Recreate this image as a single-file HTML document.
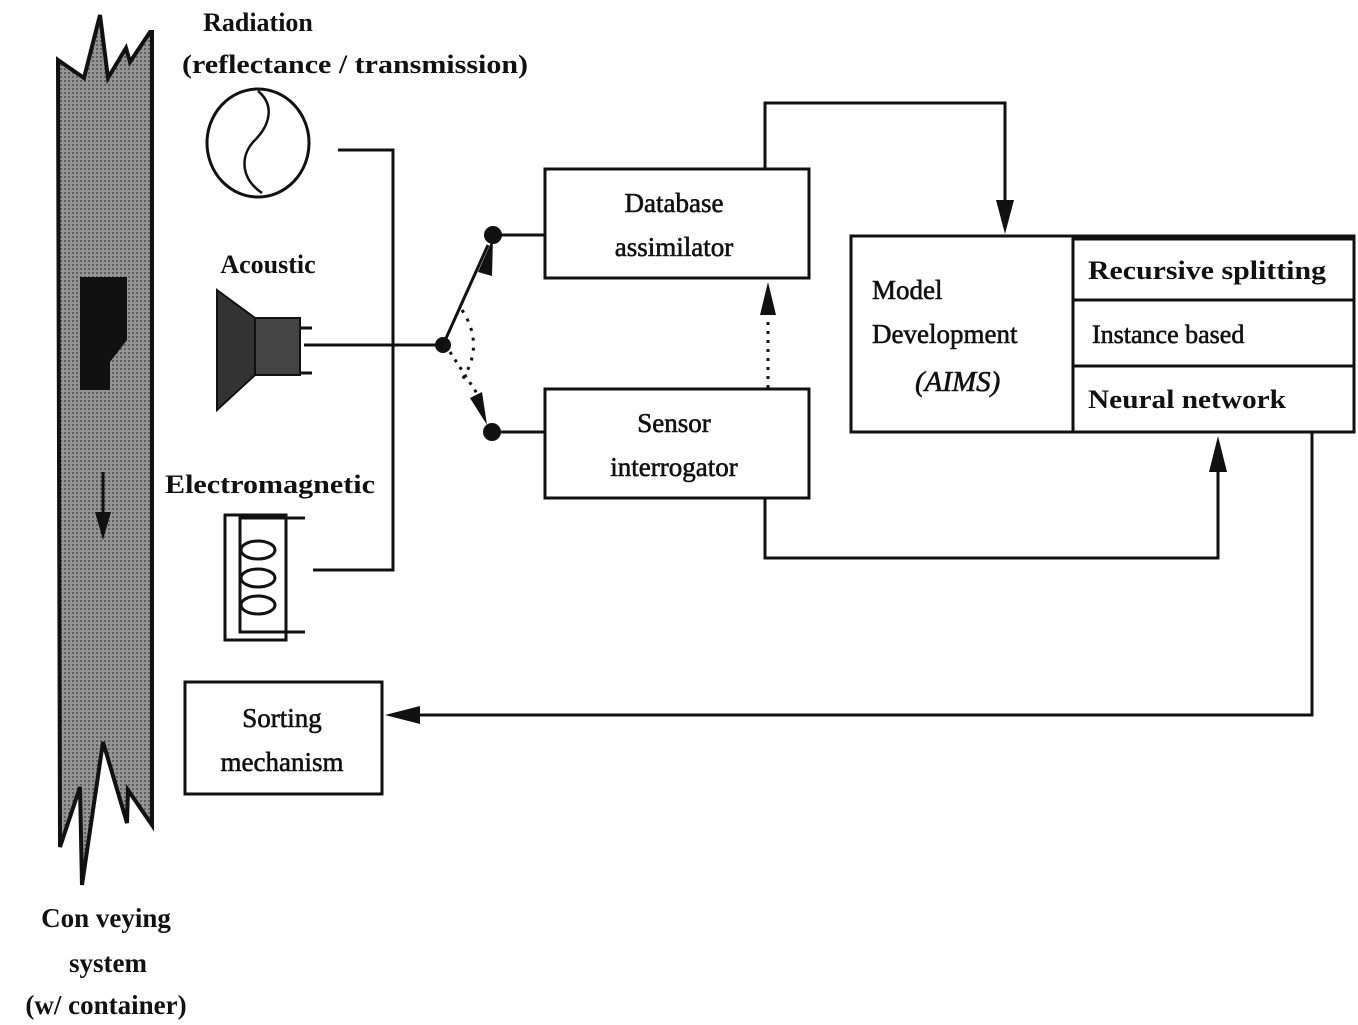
<!DOCTYPE html>
<html><head><meta charset="utf-8"><style>
html,body{margin:0;padding:0;background:#fff;}
svg{display:block;}
text{font-family:"Liberation Serif",serif;fill:#111;}
.b{font-weight:bold;}
.m{stroke:#111;stroke-width:0.6;}
</style></head><body>
<svg width="1358" height="1025" viewBox="0 0 1358 1025" xmlns="http://www.w3.org/2000/svg">
<defs>
<pattern id="dots" width="4" height="4" patternUnits="userSpaceOnUse">
<rect width="4" height="4" fill="#959595"/><rect width="2" height="2" fill="#5e5e5e"/>
</pattern>
</defs>
<path d="M58,60 L84,78 L100,15 L108,78 L126,48 L130,62 L150,32 L152,32 L152,825 L128,790 L127,823 L103,742 L82,885 L80,787 L60,847 Z" fill="url(#dots)" stroke="#111" stroke-width="4" stroke-linejoin="miter"/>
<path d="M80,277 L127,277 L127,340 L110,362 L110,390 L80,390 Z" fill="#111"/>
<line x1="103" y1="472" x2="103" y2="515" stroke="#111" stroke-width="3"/>
<path d="M95,512 L111,512 L103,540 Z" fill="#111"/>
<text x="258" y="31" font-size="26" text-anchor="middle" class="b">Radiation</text>
<text x="355" y="73" font-size="26" text-anchor="middle" class="b" textLength="346" lengthAdjust="spacingAndGlyphs">(reflectance / transmission)</text>
<text x="268" y="273" font-size="26" text-anchor="middle" class="b">Acoustic</text>
<text x="270" y="493" font-size="26" text-anchor="middle" class="b" textLength="210" lengthAdjust="spacingAndGlyphs">Electromagnetic</text>
<ellipse cx="258" cy="143" rx="51" ry="54" fill="none" stroke="#111" stroke-width="3"/>
<path d="M258,91 C275,105 270,125 255,140 C240,155 240,178 262,193" fill="none" stroke="#111" stroke-width="2.5"/>
<path d="M217,290 L255,318 L255,375 L217,410 Z" fill="#333" stroke="#111" stroke-width="2"/>
<rect x="255" y="318" width="45" height="57" fill="#444" stroke="#111" stroke-width="2"/>
<line x1="300" y1="328" x2="312" y2="328" stroke="#111" stroke-width="3"/>
<line x1="300" y1="373" x2="312" y2="373" stroke="#111" stroke-width="3"/>
<line x1="304" y1="345" x2="443" y2="345" stroke="#111" stroke-width="3"/>
<rect x="225" y="515" width="61" height="125" fill="none" stroke="#111" stroke-width="3"/>
<line x1="248" y1="518" x2="305" y2="518" stroke="#111" stroke-width="3"/>
<line x1="248" y1="632" x2="305" y2="632" stroke="#111" stroke-width="3"/>
<path d="M248,518 L240,518 L240,632 L248,632" fill="none" stroke="#111" stroke-width="3"/>
<ellipse cx="258" cy="550" rx="17" ry="9" fill="none" stroke="#111" stroke-width="3"/>
<ellipse cx="258" cy="578" rx="17" ry="9" fill="none" stroke="#111" stroke-width="3"/>
<ellipse cx="258" cy="605" rx="17" ry="9" fill="none" stroke="#111" stroke-width="3"/>
<path d="M338,150 L393,150 L393,570 L313,570" fill="none" stroke="#111" stroke-width="3"/>
<circle cx="443" cy="345" r="8" fill="#111"/>
<circle cx="493" cy="235" r="9" fill="#111"/>
<circle cx="492" cy="432" r="9" fill="#111"/>
<line x1="443" y1="345" x2="488" y2="245" stroke="#111" stroke-width="3"/>
<path d="M493,238 L478,272 L492,276 Z" fill="#111"/>
<path d="M450,352 L478,395" fill="none" stroke="#111" stroke-width="3" stroke-dasharray="3,6"/>
<path d="M487,425 L470,398 L482,392 Z" fill="#111"/>
<path d="M462,310 Q485,345 462,380" fill="none" stroke="#111" stroke-width="3" stroke-dasharray="3,7"/>
<line x1="493" y1="235" x2="545" y2="235" stroke="#111" stroke-width="3"/>
<line x1="492" y1="432" x2="545" y2="432" stroke="#111" stroke-width="3"/>
<rect x="545" y="169" width="264" height="109" fill="#fff" stroke="#111" stroke-width="3"/>
<text x="674" y="212" font-size="27" text-anchor="middle" class="m">Database</text>
<text x="674" y="256" font-size="27" text-anchor="middle" class="m">assimilator</text>
<rect x="545" y="389" width="264" height="109" fill="#fff" stroke="#111" stroke-width="3"/>
<text x="674" y="432" font-size="27" text-anchor="middle" class="m">Sensor</text>
<text x="674" y="476" font-size="27" text-anchor="middle" class="m">interrogator</text>
<line x1="768" y1="388" x2="768" y2="318" stroke="#111" stroke-width="3" stroke-dasharray="3,6"/>
<path d="M760,315 L776,315 L768,282 Z" fill="#111"/>
<path d="M765,169 L765,103 L1005,103 L1005,210" fill="none" stroke="#111" stroke-width="3"/>
<path d="M996,200 L1014,200 L1005,234 Z" fill="#111"/>
<rect x="851" y="236" width="503" height="196" fill="#fff" stroke="#111" stroke-width="3"/>
<line x1="1073" y1="236" x2="1073" y2="432" stroke="#111" stroke-width="3"/>
<line x1="1073" y1="238" x2="1354" y2="238" stroke="#111" stroke-width="5"/>
<line x1="1073" y1="300" x2="1354" y2="300" stroke="#111" stroke-width="3"/>
<line x1="1073" y1="366" x2="1354" y2="366" stroke="#111" stroke-width="3"/>
<text x="872" y="299" font-size="27" class="m">Model</text>
<text x="872" y="343" font-size="27" class="m">Development</text>
<text x="915" y="391" font-size="29" font-style="italic" class="m">(AIMS)</text>
<text x="1088" y="279" font-size="26" class="b" textLength="238" lengthAdjust="spacingAndGlyphs">Recursive splitting</text>
<text x="1092" y="343" font-size="26" class="m">Instance based</text>
<text x="1088" y="408" font-size="26" class="b" textLength="198" lengthAdjust="spacingAndGlyphs">Neural network</text>
<path d="M765,498 L765,558 L1218,558 L1218,470" fill="none" stroke="#111" stroke-width="3"/>
<path d="M1209,472 L1227,472 L1218,436 Z" fill="#111"/>
<path d="M1312,432 L1312,715 L418,715" fill="none" stroke="#111" stroke-width="3"/>
<path d="M420,706 L420,724 L385,715 Z" fill="#111"/>
<rect x="185" y="682" width="197" height="112" fill="#fff" stroke="#111" stroke-width="3"/>
<text x="282" y="727" font-size="27" text-anchor="middle" class="m">Sorting</text>
<text x="282" y="771" font-size="27" text-anchor="middle" class="m">mechanism</text>
<text x="106" y="927" font-size="27" text-anchor="middle" class="b">Con veying</text>
<text x="108" y="972" font-size="27" text-anchor="middle" class="b">system</text>
<text x="106" y="1014" font-size="27" text-anchor="middle" class="b">(w/ container)</text>
</svg>
</body></html>
